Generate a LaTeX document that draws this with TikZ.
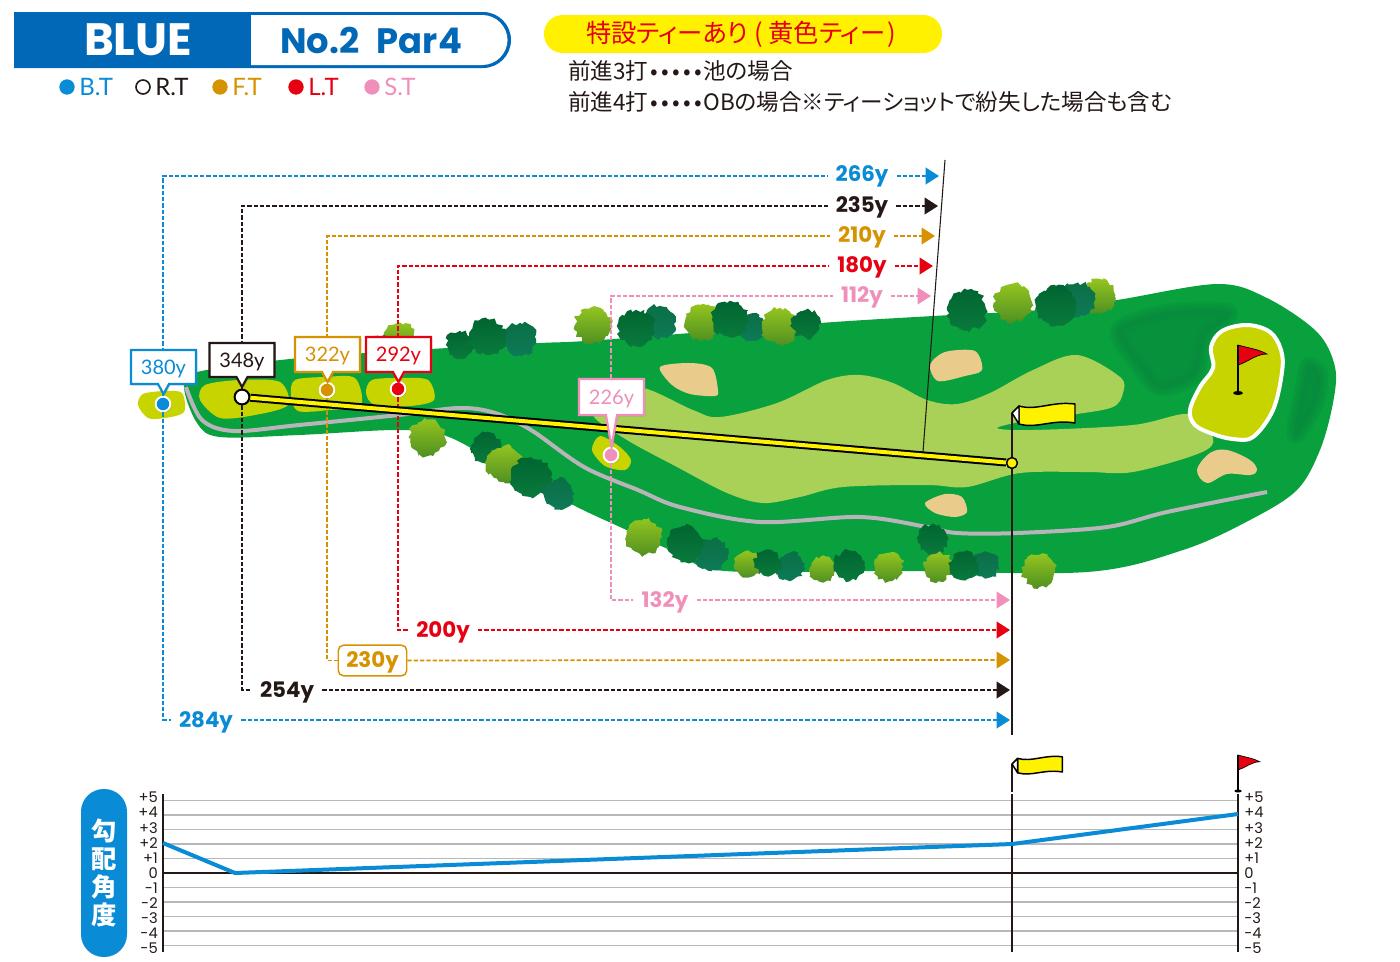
\documentclass[tikz,border=0pt]{standalone}
\usepackage{fontspec}
\setmainfont{Lato}
\newfontfamily\yardfont{Poppins}
\newfontfamily\jpfont{Noto Sans CJK JP}[RawFeature=+palt]
\usetikzlibrary{arrows.meta,shadows,decorations.pathmorphing}

\definecolor{bluetee}{HTML}{0A8BD6}
\definecolor{blacktee}{HTML}{231815}
\definecolor{orangetee}{HTML}{D69200}
\definecolor{redtee}{HTML}{E60012}
\definecolor{pinktee}{HTML}{F08FBA}
\definecolor{headblue}{HTML}{0068B7}
\definecolor{notepill}{HTML}{FFF100}
\definecolor{rough}{HTML}{08A13E}
\definecolor{deeprough}{HTML}{078A3C}
\definecolor{fairway}{HTML}{A9D157}
\definecolor{teeground}{HTML}{C8D400}
\definecolor{bunker}{HTML}{E9CC8C}
\definecolor{cartpath}{HTML}{B8B4B9}
\definecolor{leafdark}{HTML}{006531}
\definecolor{leafdarklow}{HTML}{0A7A3C}
\definecolor{leaflight}{HTML}{94C51F}
\definecolor{leaflightlow}{HTML}{4F8F22}
\definecolor{leafteal}{HTML}{0A6F45}
\definecolor{leafteallow}{HTML}{0E7A58}

\tikzset{>={Triangle[length=10pt,width=12.5pt]}}
\tikzset{
  yardline/.style={line width=1.3pt,dash pattern=on 3.2pt off 1.5pt},
  yard/.style={font=\yardfont\bfseries\fontsize{16}{16}\selectfont,inner xsep=6pt,inner ysep=0pt,text height=13pt},
  yardtop/.style={yard,text depth=3.5pt},
  yardlow/.style={yard,text depth=2pt},
  tagbox/.style={line width=1.6pt,fill=white,drop shadow={shadow xshift=1pt,shadow yshift=-1pt,opacity=.45}},
  tagtext/.style={font=\fontsize{15}{15}\selectfont,inner sep=0pt,yshift=-1.4pt},
  teemark/.style={circle,inner sep=0pt,minimum size=11pt,line width=1.4pt,draw=white,drop shadow={shadow xshift=.8pt,shadow yshift=-.8pt,opacity=.5}},
  legdot/.style={circle,inner sep=0pt,minimum size=11.5pt},
  legtext/.style={anchor=west,inner sep=0pt,font=\fontsize{18}{18}\selectfont},
  tick/.style={inner sep=0pt,font=\yardfont\fontsize{11}{11}\selectfont,text=blacktee},
  gridline/.style={draw=black!28,line width=1.1pt},
  softarea/.style={draw=deeprough,fill=deeprough,draw opacity=.3,fill opacity=.3,line join=round},
  tuft/.style={decorate,decoration={random steps,segment length=2.4pt,amplitude=1.7pt}},
  darktree/.style={top color=leafdark,bottom color=leafdarklow},
  lighttree/.style={top color=leaflight,bottom color=leaflightlow},
  tealtree/.style={top color=leafteal,bottom color=leafteallow},
  yellowflag/.pic={
    \draw[line width=1.1pt,fill=yellow,line join=round] (7,-7) .. controls (25,-2) and (40,-12) .. (63,-9) -- (63,10) .. controls (40,6) and (25,16) .. (7,11) -- cycle;
    \draw[line width=1.1pt,fill=white,line join=round] (0,0) -- (7,-7) -- (7,11) -- cycle;
  },
  redflag/.pic={
    \fill[redtee,draw=black,line width=.5pt] (0,0) .. controls (10,3) and (20,4) .. (29,9) .. controls (18,9) and (10,17) .. (0,20) -- cycle;
    \draw[line width=1.5pt] (0,0) -- (0,48);
    \fill (0,48) ellipse [x radius=5,y radius=2];
  }
}

\newcommand{\yardtag}[7]{%
  \draw[tagbox,draw=#2] (#4-32.5,#5) -- (#4+32.5,#5) -- (#4+32.5,#6) -- (#4+5.5,#6) -- (#4,#7) -- (#4-5.5,#6) -- (#4-32.5,#6) -- cycle;
  \node[tagtext,text=#2] (#1) at (#4,{(#5+#6)/2}) {#3};
}
\newcommand{\dotrun}{\xleaders\hbox to 8.25pt{\hss\textbullet\hss}\hskip 41.25pt\relax}

\begin{document}
\begin{tikzpicture}[x=.75pt,y=-.75pt]
  \useasboundingbox (0,0) rectangle (1400,961);
  \pgfmathsetseed{7}

  % Header
  \fill[headblue] (14,12) {[rounded corners=21pt] -- (511,12) -- (511,68)} -- (14,68) -- cycle;
  \fill[white] (251,15) {[rounded corners=19pt] -- (507.5,15) -- (507.5,65)} -- (251,65) -- cycle;
  \node[text=white,inner sep=0pt,font=\yardfont\bfseries\fontsize{34}{34}\selectfont] (course) at (138,40) {BLUE};
  \node[text=headblue,inner sep=0pt,font=\yardfont\bfseries\fontsize{26.5}{26.5}\selectfont] (holeno) at (371,40) {No.2\hspace{.5em}Par4};

  % Legend
  \node[legdot,fill=bluetee] (legb) at (67,87) {};
  \node[legtext,text=bluetee] (legbt) at (79,87) {B.T};
  \node[legdot,draw=blacktee,line width=1.2pt,minimum size=10.5pt] (legk) at (143,87) {};
  \node[legtext,text=blacktee] (legkt) at (155,87) {R.T};
  \node[legdot,fill=orangetee] (lego) at (220,87) {};
  \node[legtext,text=orangetee] (legot) at (232,87) {F.T};
  \node[legdot,fill=redtee] (legr) at (296,87) {};
  \node[legtext,text=redtee] (legrt) at (308,87) {L.T};
  \node[legdot,fill=pinktee] (legp) at (372,87) {};
  \node[legtext,text=pinktee] (legpt) at (384,87) {S.T};

  % Notes
  \fill[notepill,rounded corners=14pt] (544,15) rectangle (942,53);
  \node[anchor=west,inner sep=0pt,text=redtee,font=\jpfont\fontsize{19}{19}\selectfont] (special) at (586,34) {特設ティーあり\kern.25em(\kern.2em黄色ティー\kern.1em)};
  \node[anchor=west,inner sep=0pt,text=blacktee,font=\jpfont\fontsize{16.9}{16.9}\selectfont] (note3) at (568,71) {前進3打\dotrun 池の場合};
  \node[anchor=west,inner sep=0pt,text=blacktee,font=\jpfont\fontsize{16.9}{16.9}\selectfont] (note4) at (568,102) {前進4打\dotrun OBの場合※ティーショットで紛失した場合も含む};

  % Course
  \fill[rough] plot[smooth cycle,tension=.55] coordinates {(184,387) (197,372) (300,358) (447,348) (540,343) (600,340) (820,323) (933,316) (1040,310) (1117,300) (1217,284) (1267,298) (1317,332) (1335,367) (1333,403) (1320,450) (1297,490) (1250,520) (1183,550) (1087,572) (900,571) (725,571) (677,553) (620,527) (577,507) (513,473) (449,437) (399,430) (299,435) (220,437) (197,423)};
  \foreach \w in {12,8,4} {
    \path[softarea,line width=\w pt] plot[smooth cycle] coordinates {(1118,330) (1167,312) (1230,312) (1205,337) (1195,375) (1160,388) (1138,365)};
    \path[softarea,line width=\w pt] plot[smooth cycle] coordinates {(1308,365) (1320,375) (1316,403) (1297,435) (1295,425) (1303,387)};
  }
  \fill[fairway] plot[smooth cycle,tension=.55] coordinates {(593,415) (615,398) (643,388) (693,410) (720,417) (777,403) (827,380) (860,375) (893,383) (927,400) (957,404) (990,393) (1033,370) (1077,355) (1120,377) (1123,393) (1113,407) (1077,414) (1030,420) (997,428) (1033,430) (1133,425) (1190,414) (1213,438) (1200,453) (1133,472) (1087,472) (1020,473) (967,487) (927,485) (843,487) (800,497) (763,503) (727,493) (677,467) (627,440)};
  \fill[bunker] plot[smooth cycle] coordinates {(660,367) (690,363) (712,368) (718,390) (715,396) (690,394) (672,385)};
  \fill[bunker] plot[smooth cycle] coordinates {(930,365) (945,352) (975,351) (982,370) (965,376) (938,381)};
  \fill[bunker] plot[smooth cycle] coordinates {(925,503) (945,494) (962,497) (967,512) (955,517) (935,513)};
  \fill[bunker] plot[smooth cycle,tension=.6] coordinates {(1197,470) (1210,453) (1227,450) (1250,460) (1257,470) (1250,475) (1227,474) (1207,483)};
  \draw[cartpath,line width=3pt] plot[smooth,tension=.55] coordinates {(186,387) (202,420) (234,431) (299,425) (399,415) (459,408) (495,413) (531,430) (584,467) (638,490) (680,507) (760,522) (860,517) (927,527) (957,533) (1017,533) (1107,527) (1167,512) (1267,492)};

  % Green
  \draw[white,fill=teeground,line width=3pt] plot[smooth cycle,tension=.6] coordinates {(1247,325) (1270,332) (1281,350) (1282,372) (1273,410) (1253,437) (1233,439) (1213,434) (1195,425) (1190,410) (1200,387) (1213,368) (1211,347) (1222,331)};

  % Tee grounds
  \fill[teeground] plot[smooth cycle] coordinates {(143,394) (165,391) (182,393) (184,412) (165,418) (148,418) (138,405)};
  \fill[teeground] plot[smooth cycle] coordinates {(205,385) (240,380) (280,382) (288,405) (255,415) (220,418) (200,400)};
  \fill[teeground] plot[smooth cycle] coordinates {(295,380) (325,377) (355,378) (361,405) (330,410) (298,411) (291,395)};
  \fill[teeground] plot[smooth cycle] coordinates {(372,380) (400,378) (428,380) (434,400) (410,406) (375,405) (366,393)};
  \fill[teeground] plot[smooth cycle] coordinates {(600,436) (620,447) (631,460) (625,470) (605,466) (592,450)};

  % Trees
  \foreach \tx/\ty/\tr/\tk in {400/338/15/lighttree,378/348/12/darktree,
    460/345/14/darktree,520/339/16/tealtree,487/337/18/darktree,593/325/18/lighttree,660/322/16/tealtree,636/328/18/darktree,
    703/322/18/lighttree,752/327/13/tealtree,730/319/18/darktree,780/326/18/lighttree,806/324/14/darktree,
    967/310/20/darktree,1013/303/19/lighttree,1098/296/17/lighttree,1078/300/17/tealtree,1056/306/20/darktree,
    427/438/18/lighttree,486/448/15/darktree,504/464/18/lighttree,531/477/20/darktree,559/494/15/tealtree,
    644/537/18/lighttree,712/555/16/tealtree,685/544/18/darktree,748/564/13/lighttree,790/567/14/tealtree,768/563/13/darktree,
    823/569/13/lighttree,849/566/15/darktree,889/567/14/lighttree,933/539/15/darktree,938/567/14/lighttree,985/565/13/tealtree,964/566/14/darktree,1039/571/16/lighttree}
    \shade[\tk,tuft] (\tx,\ty) circle [radius=\tr];

  \pic at (1238,345) {redflag};
  \draw[blacktee,line width=.8pt] (945,160) -- (923,452);

  % Tee marks
  \node[teemark,fill=bluetee] (btmark) at (163,404) {};
  \node[teemark,fill=white,draw=black] (rtmark) at (242,397) {};
  \node[teemark,fill=orangetee] (ftmark) at (327,390) {};
  \node[teemark,fill=redtee] (ltmark) at (398,389) {};
  \node[teemark,fill=pinktee] (stmark) at (611,455) {};

  % Labels to the pond
  \node[yardtop,text depth=5.4pt,text=bluetee] (up266) at (862,176) {266y};
  \node[yardtop,text=blacktee] (up235) at (862,206) {235y};
  \node[yardtop,text=orangetee] (up210) at (862,236) {210y};
  \node[yardtop,text=redtee] (up180) at (862,266) {180y};
  \node[yardtop,text=pinktee] (up112) at (862,296) {112y};
  \coordinate (end266) at (939,176);
  \coordinate (end235) at (938,206);
  \coordinate (end210) at (935,236);
  \coordinate (end180) at (933,266);
  \coordinate (end112) at (931,296);
  \draw[yardline,bluetee] (btmark) |- (up266);
  \draw[yardline,blacktee] (rtmark) |- (up235);
  \draw[yardline,orangetee] (ftmark) |- (up210);
  \draw[yardline,redtee] (ltmark) |- (up180);
  \draw[yardline,pinktee] (stmark) |- (up112);
  \draw[yardline,bluetee,->] (up266) -- (end266);
  \draw[yardline,blacktee,->] (up235) -- (end235);
  \draw[yardline,orangetee,->] (up210) -- (end210);
  \draw[yardline,redtee,->] (up180) -- (end180);
  \draw[yardline,pinktee,->] (up112) -- (end112);

  % Labels to the green
  \node[yardlow,text=pinktee] (low132) at (665,600) {132y};
  \node[yardlow,text=redtee] (low200) at (443,630) {200y};
  \node[yard,text depth=2pt,text=orangetee,draw=orangetee,fill=white,rounded corners=4pt,line width=1.1pt,inner xsep=6pt,inner ysep=4pt] (low230) at (372.5,660.5) {230y};
  \node[yardlow,text=blacktee] (low254) at (287,690) {254y};
  \node[yardlow,text=bluetee] (low284) at (206,720) {284y};
  \coordinate (end132) at (1010,600);
  \coordinate (end200) at (1010,630);
  \coordinate (end230) at (1010,660);
  \coordinate (end254) at (1010,690);
  \coordinate (end284) at (1010,720);
  \draw[yardline,pinktee] (stmark) |- (low132);
  \draw[yardline,redtee] (ltmark) |- (low200);
  \draw[yardline,orangetee] (ftmark) |- (low230);
  \draw[yardline,blacktee] (rtmark) |- (low254);
  \draw[yardline,bluetee] (btmark) |- (low284);
  \draw[yardline,pinktee,->] (low132) -- (end132);
  \draw[yardline,redtee,->] (low200) -- (end200);
  \draw[yardline,orangetee,->] (low230) -- (end230);
  \draw[yardline,blacktee,->] (low254) -- (end254);
  \draw[yardline,bluetee,->] (low284) -- (end284);

  % Flag and shot line
  \coordinate (poletop) at (1012,413);
  \coordinate (polefoot) at (1012,735);
  \node[circle,inner sep=0pt,minimum size=8pt,draw=black,line width=1pt,fill=yellow] (shotend) at (1012,463) {};
  \draw[blacktee,line width=.9pt] (poletop) -- (polefoot);
  \pic at (poletop) {yellowflag};
  \draw[line width=1.5pt,double=yellow,double distance=3pt] (rtmark) -- (shotend);
  \node[teemark,fill=white,draw=black] (rtmarktop) at (rtmark) {};
  \node[circle,inner sep=0pt,minimum size=8pt,draw=black,line width=1pt,fill=yellow] (shotendtop) at (shotend) {};

  % Tags
  \yardtag{tag380}{bluetee}{380y}{163.5}{350}{384}{394}
  \yardtag{tag348}{blacktee}{348y}{242}{343}{377}{387}
  \yardtag{tag322}{orangetee}{322y}{327.5}{337}{372}{382}
  \yardtag{tag292}{redtee}{292y}{398.5}{337}{372}{382}
  \yardtag{tag226}{pinktee}{226y}{611.5}{379}{415}{447}

  % Slope chart
  \foreach \n in {-5,...,5} {
    \draw[gridline] (163,{873-14.5*\n}) -- (1238,{873-14.5*\n});
  }
  \draw[blacktee,line width=.9pt] (163,873) -- (1238,873);
  \draw[blacktee,line width=.9pt] (1012,794) -- (1012,952);
  \draw[blacktee,line width=1.6pt] (163,794) -- (163,952);
  \draw[blacktee,line width=1.6pt] (1238,794) -- (1238,952);
  \draw[bluetee,line width=3pt,line join=round] (163,843) -- (235,873) -- (1012,844) -- (1238,814);
  \foreach \n/\lab in {5/+5,4/+4,3/+3,2/+2,1/+1,0/0,-1/-1,-2/-2,-3/-3,-4/-4,-5/-5} {
    \node[tick,anchor=east] (ltick\n) at (158,{873-15.1*\n}) {\lab};
    \node[tick,anchor=west] (rtick\n) at (1244,{873-15.1*\n}) {\lab};
  }
  \draw[blacktee,line width=.9pt] (1012,764) -- (1012,792);
  \pic[scale=.8,line width=.9pt] at (1012,764) {yellowflag};
  \pic[scale=.75] at (1238,755) {redflag};
  \node[fill=bluetee,text=white,rounded corners=17pt,minimum width=34.5pt,minimum height=126pt,inner sep=0pt,align=center,font=\jpfont\bfseries\fontsize{19}{21}\selectfont] (slope) at (104,873) {勾\\配\\角\\度};
\end{tikzpicture}
\end{document}
